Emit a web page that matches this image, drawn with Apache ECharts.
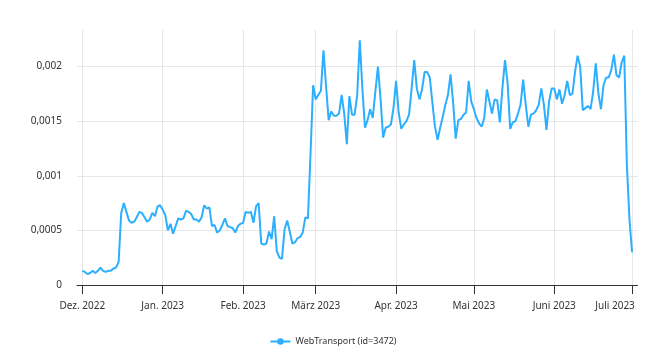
<!DOCTYPE html>
<html>
<head>
<meta charset="utf-8">
<script src="https://cdn.jsdelivr.net/npm/echarts@6/dist/echarts.min.js"></script>
<style>
html,body{margin:0;padding:0;background:#fff;}
#chart{width:666px;height:353px;}
</style>
</head>
<body>
<div id="chart"></div>
<script>
// Daily values, starting 1 Dec 2022
const dec2022 = [0.00013,0.00012,0.00010,0.00011,0.00013,0.00011,0.00013,0.00016,0.00013,0.00012,0.00013,0.00013,0.00015,0.00016,0.00021,0.00066,0.00075,0.00067,0.00059,0.00057,0.00058,0.00062,0.00067,0.00066,0.00062,0.00058,0.00060,0.00066,0.00063,0.00072,0.00073];
const jan2023 = [0.00069,0.00064,0.00050,0.00056,0.00047,0.00054,0.00061,0.00060,0.00061,0.00068,0.00067,0.00065,0.00060,0.00060,0.00058,0.00062,0.00073,0.00070,0.00071,0.00054,0.00055,0.00048,0.00050,0.00055,0.00061,0.00054,0.00053,0.00052,0.00048,0.00054,0.00056];
const feb2023 = [0.00057,0.00067,0.00066,0.00067,0.00057,0.00072,0.00075,0.00038,0.00037,0.00038,0.00049,0.00042,0.00063,0.00031,0.00025,0.00024,0.00051,0.00059,0.00049,0.00038,0.00039,0.00043,0.00044,0.00048,0.00062,0.00061,0.00120,0.00183];
const mar2023 = [0.00170,0.00174,0.00178,0.00215,0.00182,0.00151,0.00159,0.00155,0.00155,0.00157,0.00174,0.00157,0.00129,0.00173,0.00156,0.00156,0.00174,0.00224,0.00180,0.00144,0.00151,0.00161,0.00153,0.00177,0.00200,0.00171,0.00135,0.00144,0.00145,0.00147,0.00162];
const apr2023 = [0.00187,0.00158,0.00143,0.00147,0.00150,0.00156,0.00180,0.00206,0.00180,0.00170,0.00179,0.00195,0.00195,0.00190,0.00167,0.00145,0.00133,0.00144,0.00154,0.00165,0.00174,0.00193,0.00167,0.00134,0.00151,0.00152,0.00156,0.00158,0.00187,0.00168];
const may2023 = [0.00161,0.00153,0.00148,0.00145,0.00153,0.00179,0.00168,0.00157,0.00170,0.00169,0.00149,0.00180,0.00206,0.00185,0.00143,0.00149,0.00150,0.00157,0.00165,0.00188,0.00165,0.00145,0.00156,0.00157,0.00160,0.00165,0.00180,0.00165,0.00142,0.00168,0.00180];
const jun2023 = [0.00180,0.00170,0.00179,0.00166,0.00174,0.00187,0.00174,0.00175,0.00195,0.00210,0.00200,0.00160,0.00162,0.00164,0.00161,0.00177,0.00203,0.00176,0.00161,0.00183,0.00190,0.00190,0.00197,0.00211,0.00192,0.00190,0.00204,0.00210,0.00110,0.00060];
const jul2023 = [0.00030];

const monthNames = ['Jan.','Feb.','März','Apr.','Mai','Juni','Juli','Aug.','Sep.','Okt.','Nov.','Dez.'];
const yTicks = [0, 0.0005, 0.001, 0.0015, 0.002];
const seriesName = 'WebTransport (id=3472)';

const DAY = 86400000;
const start = Date.UTC(2022, 11, 1);
const allValues = [].concat(dec2022, jan2023, feb2023, mar2023, apr2023, may2023, jun2023, jul2023);
const data = allValues.map((v, i) => [start + i * DAY, v]);
const end = start + (allValues.length - 1) * DAY;

const font = 'Noto Sans';
const textColor = '#333333';
const chart = echarts.init(document.getElementById('chart'), null, {renderer: 'canvas'});
chart.setOption({
  animation: false,
  useUTC: true,
  grid: {left: 77, right: 28.5, top: 29.5, bottom: 68, containLabel: false},
  xAxis: {
    type: 'time',
    min: start - 2.05 * DAY,
    max: end + 2.1 * DAY,
    splitNumber: 7,
    axisLine: {show: true, lineStyle: {color: '#333333', width: 1}},
    axisTick: {show: true, length: 9, lineStyle: {color: '#333333'}},
    splitLine: {show: true, showMinLine: false, showMaxLine: false, lineStyle: {color: '#e6e6e6', width: 1}},
    axisLabel: {
      show: true,
      margin: 16,
      color: textColor,
      fontFamily: font,
      fontSize: 10,
      showMinLabel: false,
      showMaxLabel: false,
      formatter: function (value) {
        const d = new Date(value);
        if (d.getUTCDate() !== 1 || d.getUTCHours() !== 0) return '';
        const txt = monthNames[d.getUTCMonth()] + ' ' + d.getUTCFullYear();
        if (value >= end - DAY) return '{last|' + txt + '}';
        return txt;
      },
      rich: {
        last: {padding: [0, 34, 0, 0], color: textColor, fontFamily: font, fontSize: 10}
      }
    }
  },
  yAxis: {
    type: 'value',
    min: yTicks[0],
    max: 0.00234,
    interval: 0.0005,
    axisLine: {show: false},
    axisTick: {show: false},
    splitLine: {show: true, showMaxLine: false, lineStyle: {color: '#e6e6e6', width: 1}},
    axisLabel: {
      margin: 15,
      color: textColor,
      fontFamily: font,
      fontSize: 10,
      showMaxLabel: false,
      formatter: function (v) {
        const r = parseFloat(v.toFixed(6));
        if (!yTicks.some(t => Math.abs(t - r) < 1e-9)) return '';
        return String(r).replace('.', ',');
      }
    }
  },
  legend: {
    show: true,
    left: 'center',
    top: 332,
    itemWidth: 20,
    itemHeight: 8,
    itemGap: 10,
    textStyle: {color: textColor, fontFamily: font, fontSize: 9}
  },
  series: [{
    name: seriesName,
    type: 'line',
    data: data,
    showSymbol: false,
    symbol: 'circle',
    symbolSize: 8,
    lineStyle: {color: '#2caffe', width: 2},
    itemStyle: {color: '#2caffe'}
  }]
});
</script>
</body>
</html>
